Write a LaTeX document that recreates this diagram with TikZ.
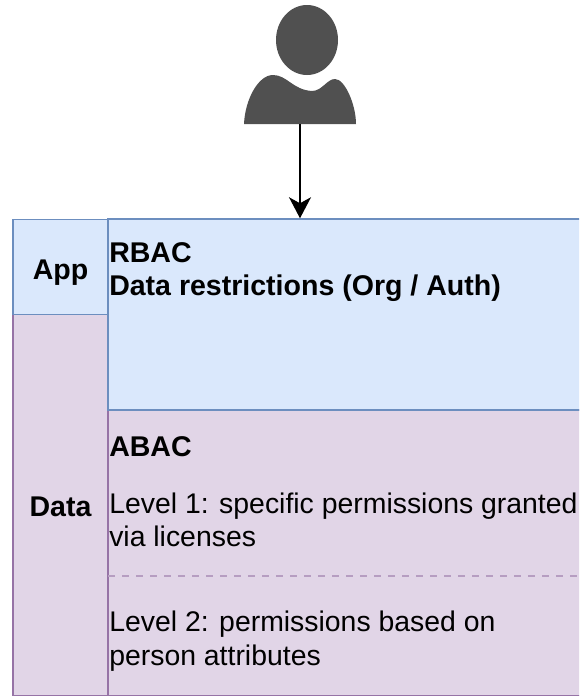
\documentclass[tikz,border=0pt]{standalone}
\usepackage{fontspec}
\setmainfont{Liberation Sans}
\usepackage{tikz}
\usetikzlibrary{arrows.meta}
\definecolor{bluefill}{HTML}{DAE8FC}
\definecolor{blueline}{HTML}{6C8EBF}
\definecolor{purplefill}{HTML}{E1D5E7}
\definecolor{purpleline}{HTML}{9673A6}
\definecolor{persongray}{HTML}{505050}
\tikzset{
bluebox/.style={draw=blueline,fill=bluefill,line width=1.1pt,inner sep=0pt},
purplebox/.style={draw=purpleline,fill=purplefill,line width=1.1pt,inner sep=0pt},
boxtext/.style={anchor=west,align=left,inner sep=0pt,font=\fontsize{21.3}{25}\selectfont},
boldtext/.style={inner sep=0pt,align=left,font=\fontsize{21.4}{25}\selectfont\bfseries}
}
\begin{document}
\begin{tikzpicture}[x=0.75pt,y=-0.75pt]%users and access layers
\useasboundingbox (0,0) rectangle (579,696);
\begin{scope}
\clip (0,0) rectangle (579,696);
\node[purplebox,minimum width=71.25pt,minimum height=285.75pt] (data) at (60.5,505) {};
\node[purplebox,minimum width=375pt,minimum height=214.5pt] (abac) at (358,553) {};
\node[bluebox,minimum width=71.25pt,minimum height=71.25pt] (app) at (60.5,267) {};
\node[bluebox,minimum width=375pt,minimum height=143.25pt] (rbac) at (358,314.5) {};
\end{scope}
\fill[persongray] (307,40) ellipse (31 and 35);
\fill[persongray] (244,124) .. controls (245,100) and (258,75) .. (273,75)
 .. controls (287,75) and (293,90) .. (312,91)
 .. controls (322,91) and (327,79) .. (335,79)
 .. controls (345,79) and (356,105) .. (356,124) -- cycle;
\coordinate (person) at (300,124);
\draw[-{Stealth[length=15.75pt,width=16.5pt,inset=4.5pt]},line width=1.1pt] (person) -- (person |- rbac.north);
\node[boldtext] (datatext) at (60.5,507) {Data};
\node[boldtext] (apptext) at (60.5,273) {App};
\node[boldtext,anchor=west] (rbactext) at (109,272) {RBAC\\Data restrictions (Org / Auth)};
\node[boldtext,anchor=west] (abactext) at (109,447) {ABAC};
\node[boxtext] (levelone) at (109,520) {Level 1: specific permissions granted\\via licenses};
\node[boxtext] (leveltwo) at (109,641) {Level 2: permissions based on\\person attributes};
\coordinate (dashleft) at (108,576);
\coordinate (dashright) at (579,576);
\draw[purpleline!70,line width=1.1pt,dash pattern=on 5.25pt off 5.25pt] (dashleft) -- (dashright);
\end{tikzpicture}
\end{document}
